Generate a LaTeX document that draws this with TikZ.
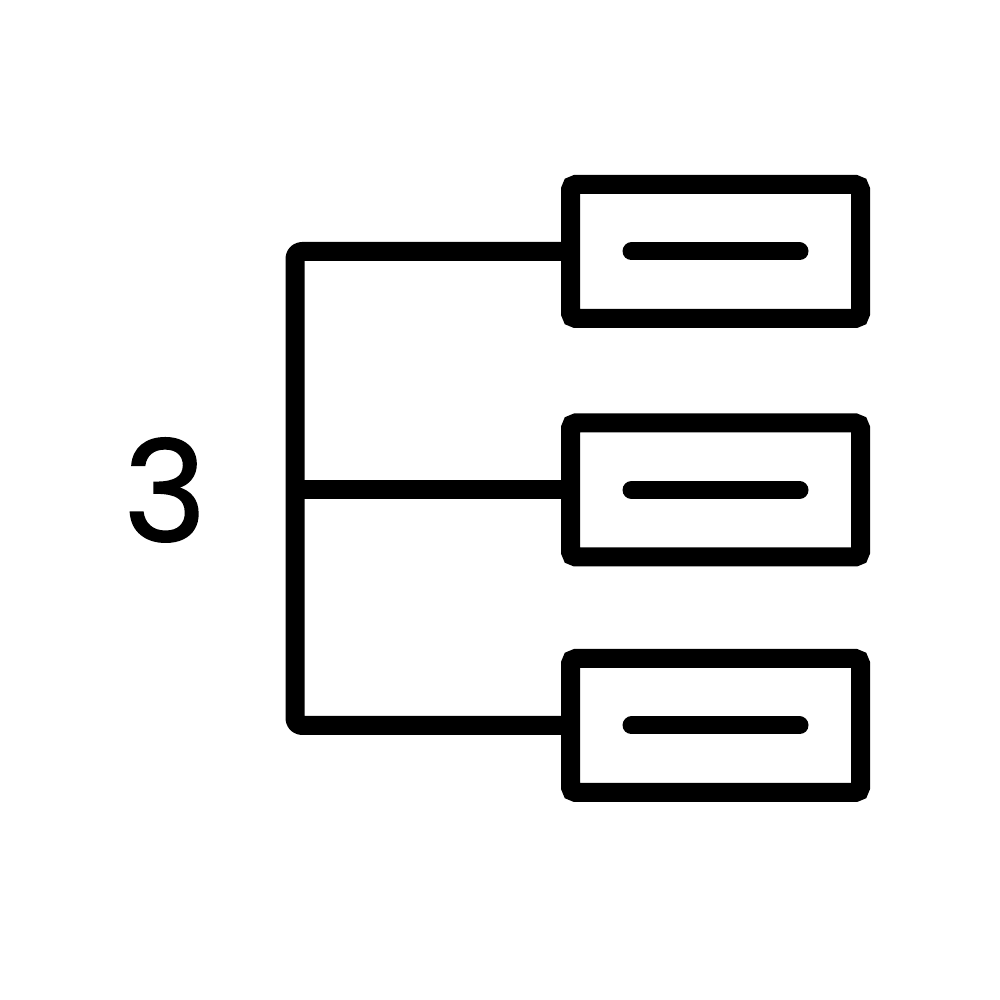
\documentclass[tikz,border=0pt]{standalone}
\usepackage{fontspec}
\setmainfont{Poppins}
\newfontfamily\digitfont{Poppins}[FakeBold=1.2]
\usepackage{tikz}
\usetikzlibrary{calc}
\tikzset{
	slot/.style={draw=black, line width=0.19cm, minimum width=2.9cm, minimum height=1.34cm, inner sep=0pt, rounded corners=1.5pt},
	wire/.style={line width=0.19cm, line join=round, rounded corners=2pt},
	bar/.style={line width=0.18cm, line cap=round}
}

\begin{document}
\begin{tikzpicture}
			%%%%% START %%%%%
			
			\useasboundingbox[fill=white] (0, 0) rectangle (10, 10);
			
			\node[font=\digitfont\fontsize{40}{40}\selectfont] (count) at (1.65, 5.1) {3};
			
			\node[slot] (slotA) at (7.155, 7.485) {};
			\node[slot] (slotB) at (7.155, 5.10) {};
			\node[slot] (slotC) at (7.155, 2.745) {};
			
			\coordinate (spine) at (2.95, 0);
			
			\draw[wire] (slotA.west) -- (slotA.west -| spine) -- (slotC.west -| spine) -- (slotC.west);
			\draw[wire] (slotB.west -| spine) -- (slotB.west);
			
			\draw[bar] ($(slotA.center)+(-0.84, 0)$) -- ($(slotA.center)+(0.84, 0)$);
			\draw[bar] ($(slotB.center)+(-0.84, 0)$) -- ($(slotB.center)+(0.84, 0)$);
			\draw[bar] ($(slotC.center)+(-0.84, 0)$) -- ($(slotC.center)+(0.84, 0)$);
			
			%%%%% END %%%%%
		\end{tikzpicture}
\end{document}
